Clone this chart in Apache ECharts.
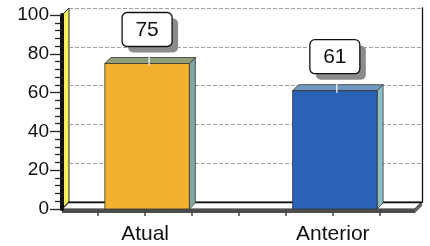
<!DOCTYPE html>
<html>
<head>
<meta charset="utf-8">
<script src="https://cdn.jsdelivr.net/npm/echarts@6/dist/echarts.min.js"></script>
<style>
  html, body { margin: 0; padding: 0; background: #fff; }
  #chart { width: 430px; height: 246px; }
</style>
</head>
<body>
<div id="chart"></div>
<script>
// data
var categories = ['Atual', 'Anterior'];
var values = [75, 61];
var yTicks = [0, 20, 40, 60, 80, 100];

// bar colours: front, side, top
var frontColors = ['#F3B130', '#2B62B6'];
var sideColors = ['#7FA8A2', '#8DC0C2'];
var topColors = ['#909F78', '#6F9AC2'];

var D = 7;          // depth of the 3d look
var BD = 6;         // depth of the bars
var XMIN = 0.23, XMAX = 7.75;
var FONT = '"Liberation Sans", Arial, sans-serif';

// each category sits on a slot of the hidden value axis
var slot = function (i) { return 2 + 4 * i; };

var barData = values.map(function (v, i) { return [slot(i), v, i]; });

var renderBar = function (params, api) {
    var x = api.value(0), v = api.value(1), i = api.value(2);
    var half = api.size([1.8, 0])[0] / 2;
    var top = api.coord([x, v]);
    var base = api.coord([x, 0]);
    var cx = top[0] + 2;
    var l = cx - half, r = cx + half, t = top[1], b = base[1];
    var boxW = 50, boxH = 34, boxB = t - 17;
    return {
        type: 'group',
        children: [
            { type: 'polygon', shape: { points: [[r, t], [r + BD, t - BD], [r + BD, b - BD], [r, b]] },
              style: { fill: sideColors[i], stroke: '#333', lineWidth: 0.8 } },
            { type: 'polygon', shape: { points: [[l, t], [l + BD, t - BD], [r + BD, t - BD], [r, t]] },
              style: { fill: topColors[i], stroke: '#333', lineWidth: 0.8 } },
            { type: 'rect', shape: { x: l, y: t, width: r - l, height: b - t },
              style: { fill: frontColors[i], stroke: '#333', lineWidth: 0.8 } },
            { type: 'line', shape: { x1: cx + 2, y1: boxB, x2: cx + 2, y2: t + 2 },
              style: { stroke: '#fff', lineWidth: 1.2 } },
            { type: 'rect', shape: { x: cx - boxW / 2 + 6, y: boxB - boxH + 6, width: boxW, height: boxH, r: 5 },
              style: { fill: '#8c8c8c' } },
            { type: 'rect', shape: { x: cx - boxW / 2, y: boxB - boxH, width: boxW, height: boxH, r: 5 },
              style: { fill: '#fff', stroke: '#111', lineWidth: 1.3 } },
            { type: 'text', x: cx, y: boxB - boxH / 2 + 1,
              style: { text: String(v), fill: '#111', font: '21px ' + FONT, align: 'center', verticalAlign: 'middle' } }
        ]
    };
};

var chart = echarts.init(document.getElementById('chart'));

var option = {
    animation: false,
    backgroundColor: '#fff',
    grid: [
        { left: 62, right: 15, top: 15, bottom: 37 },
        { left: 62 + D, right: 15 - D, top: 15 - D, bottom: 37 + D }
    ],
    xAxis: [
        {
            type: 'value', gridIndex: 0, min: XMIN, max: XMAX, offset: 4,
            axisLine: { show: false },
            splitLine: { show: false },
            axisTick: { show: true, length: 7, customValues: [1, 2, 3, 4, 5, 6, 7],
                lineStyle: { color: '#444', width: 1.5 } },
            axisLabel: { customValues: categories.map(function (c, i) { return slot(i); }),
                margin: 11, color: '#111', fontSize: 21, fontFamily: FONT,
                formatter: function (val) { return categories[(val - 2) / 4]; } }
        },
        {
            type: 'value', gridIndex: 1, min: XMIN, max: XMAX, position: 'top',
            axisLine: { show: true, lineStyle: { color: '#111', width: 1.3 } },
            splitLine: { show: false },
            axisTick: { show: true, length: 7, customValues: [2, 6], lineStyle: { color: '#555' } },
            axisLabel: { show: false }
        }
    ],
    yAxis: [
        {
            type: 'value', gridIndex: 0, min: 0, max: 100, interval: 20,
            axisLine: { show: true, lineStyle: { color: '#111', width: 4 } },
            axisTick: { show: true, length: 12, lineStyle: { color: '#222', width: 1.3 } },
            minorTick: { show: true, splitNumber: 5, length: 7, lineStyle: { color: '#222', width: 1.3 } },
            splitLine: { show: false },
            axisLabel: { margin: 13, color: '#111', fontSize: 19, fontFamily: FONT,
                formatter: function (val) { return yTicks.indexOf(val) >= 0 ? String(val) : ''; } }
        },
        {
            type: 'value', gridIndex: 1, min: 0, max: 100, interval: 20, position: 'right',
            axisLine: { show: true, lineStyle: { color: '#111', width: 1.3 } },
            axisTick: { show: false },
            axisLabel: { show: false },
            splitLine: { show: true, lineStyle: { color: '#a0a0a0', type: [4, 2], width: 1 } }
        }
    ],
    series: [
        {
            type: 'custom',
            xAxisIndex: 0, yAxisIndex: 0,
            renderItem: renderBar,
            data: barData,
            z: 5
        }
    ]
};

chart.setOption(option);

// walls and floor, placed from the axes
var px = function (x, y) { return chart.convertToPixel({ xAxisIndex: 0, yAxisIndex: 0 }, [x, y]); };
var a = px(XMIN, 0), b = px(XMAX, 0), c = px(XMIN, 100);
chart.setOption({
    graphic: [
        { type: 'polygon', z: -5,
          shape: { points: [[c[0], c[1]], [c[0] + D, c[1] - D], [a[0] + D, a[1] - D], [a[0], a[1]]] },
          style: { fill: '#F6F05A', stroke: '#222', lineWidth: 1 } },
        { type: 'polygon', z: -5,
          shape: { points: [[a[0], a[1]], [b[0], b[1]], [b[0] + D, b[1] - D], [a[0] + D, a[1] - D]] },
          style: { fill: '#fff', stroke: '#222', lineWidth: 1.2 } },
        { type: 'rect', z: -5,
          shape: { x: a[0], y: a[1], width: b[0] - a[0], height: 4 },
          style: { fill: '#4d4d4d' } },
        { type: 'polygon', z: -5,
          shape: { points: [[b[0], b[1]], [b[0] + D, b[1] - D], [b[0] + D, b[1] - D + 4], [b[0], b[1] + 4]] },
          style: { fill: '#666' } }
    ]
});
</script>
</body>
</html>
